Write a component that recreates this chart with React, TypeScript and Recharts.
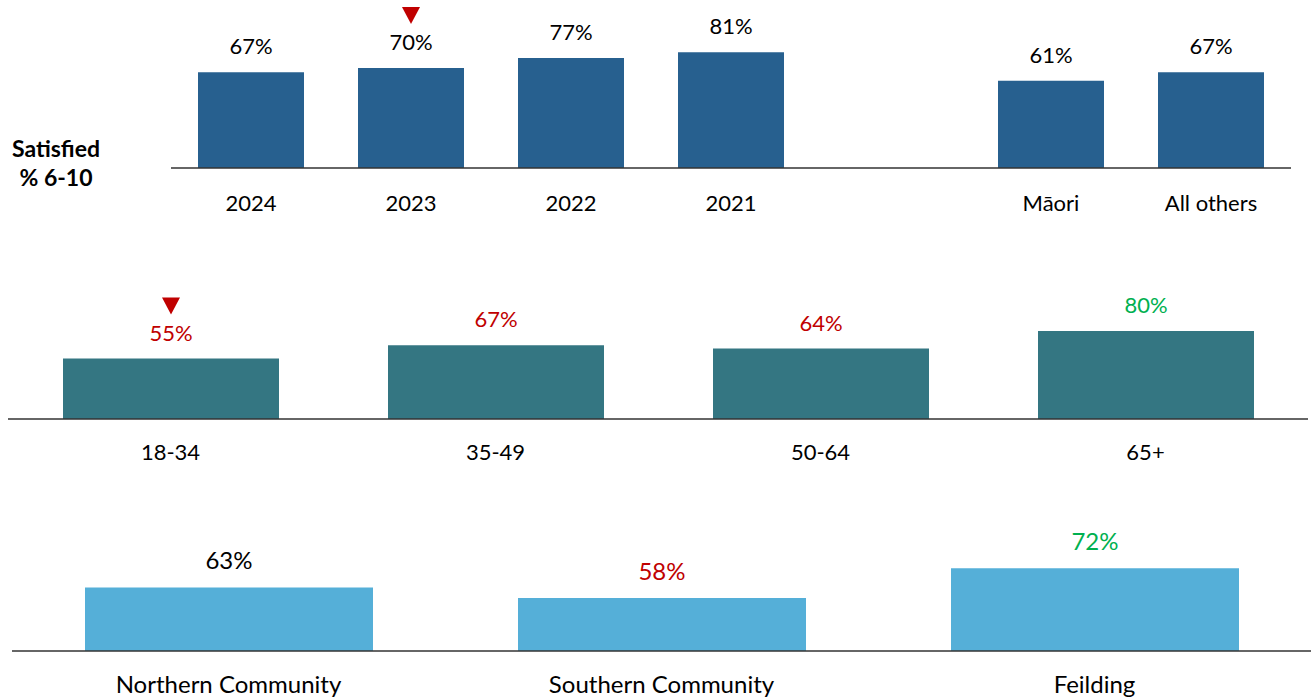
import { BarChart, Bar, XAxis, YAxis, LabelList } from 'recharts';

const FONT = 'Lato, "Open Sans", sans-serif';

// tone of a value label: plain, significantly lower, significantly higher
const TONE: Record<string, string> = { none: '#000000', low: '#C00000', high: '#00B050' };

// top row: year trend, then a blank slot, then ethnicity
const topCategories = ['2024', '2023', '2022', '2021', ' ', 'Māori', 'All others'];
const topValues = [67, 70, 77, 81, null, 61, 67];
const topTone = ['none', 'none', 'none', 'none', 'none', 'none', 'none'];
const topArrow = [false, true, false, false, false, false, false];

// middle row: age groups
const ageCategories = ['18-34', '35-49', '50-64', '65+'];
const ageValues = [55, 67, 64, 80];
const ageTone = ['low', 'low', 'low', 'high'];
const ageArrow = [true, false, false, false];

// bottom row: areas
const areaCategories = ['Northern Community', 'Southern Community', 'Feilding'];
const areaValues = [63, 58, 72];
const areaTone = ['none', 'low', 'high'];
const areaArrow = [false, false, false];

type PanelProps = {
  categories: string[];
  values: (number | null)[];
  tone: string[];
  arrow: boolean[];
  color: string;
  top: number;
  height: number;
  margin: { top: number; left: number; right: number; bottom: number };
  axisHeight: number;
  barSize: number;
  domain: [number, number];
  fontSize: number;
  tickDrop: number;
};

function Panel(p: PanelProps) {
  const data = p.categories.map((name, i) => ({ name, value: p.values[i] }));

  const renderTick = (props: any) => {
    const { x, y, payload } = props;
    return (
      <text x={x} y={y + p.tickDrop} textAnchor="middle" fill="#000" fontSize={p.fontSize} fontFamily={FONT}>
        {payload.value}
      </text>
    );
  };

  const renderLabel = (props: any) => {
    const vb = props.viewBox ?? {};
    const x = props.x ?? vb.x;
    const y = props.y ?? vb.y;
    const width = props.width ?? vb.width;
    const { index, value } = props;
    if (value == null || x == null) return null;
    const cx = Number(x) + Number(width) / 2;
    const ty = Number(y);
    return (
      <g>
        {p.arrow[index] && (
          <polygon points={`${cx - 9},${ty - 61} ${cx + 9},${ty - 61} ${cx},${ty - 44}`} fill="#C00000" />
        )}
        <text x={cx} y={ty - 18} textAnchor="middle" fill={TONE[p.tone[index]]} fontSize={p.fontSize} fontFamily={FONT}>
          {value}%
        </text>
      </g>
    );
  };

  return (
    <div style={{ position: 'absolute', left: 0, top: p.top }}>
      <BarChart width={1316} height={p.height} data={data} margin={p.margin}>
        <XAxis
          dataKey="name"
          height={p.axisHeight}
          axisLine={{ stroke: '#333333', strokeWidth: 1.5 }}
          tickLine={false}
          tickSize={0}
          tickMargin={0}
          interval={0}
          tick={renderTick}
        />
        <YAxis hide domain={p.domain} allowDataOverflow />
        <Bar dataKey="value" fill={p.color} barSize={p.barSize} isAnimationActive={false}>
          <LabelList dataKey="value" content={renderLabel} />
        </Bar>
      </BarChart>
    </div>
  );
}

export default function App() {
  return (
    <div style={{ position: 'absolute', left: 0, top: 0, width: 1316, height: 699, background: '#fff', overflow: 'hidden' }}>
      <div
        style={{
          position: 'absolute',
          left: 0,
          top: 134,
          width: 112,
          textAlign: 'center',
          fontFamily: FONT,
          fontWeight: 700,
          fontSize: 23,
          lineHeight: '29px',
          color: '#000',
        }}
      >
        Satisfied
        <br />
        % 6-10
      </div>

      <Panel
        categories={topCategories}
        values={topValues}
        tone={topTone}
        arrow={topArrow}
        color="#27608F"
        top={0}
        height={230}
        margin={{ top: 25, left: 171, right: 25, bottom: 0 }}
        axisHeight={62}
        barSize={106}
        domain={[0, 100]}
        fontSize={22}
        tickDrop={43}
      />

      <Panel
        categories={ageCategories}
        values={ageValues}
        tone={ageTone}
        arrow={ageArrow}
        color="#347682"
        top={230}
        height={240}
        margin={{ top: 79, left: 8, right: 8, bottom: 0 }}
        axisHeight={51}
        barSize={216}
        domain={[0, 100]}
        fontSize={22}
        tickDrop={41}
      />

      <Panel
        categories={areaCategories}
        values={areaValues}
        tone={areaTone}
        arrow={areaArrow}
        color="#55AFD8"
        top={470}
        height={229}
        margin={{ top: 75, left: 12, right: 5, bottom: 0 }}
        axisHeight={48}
        barSize={288}
        domain={[33, 83]}
        fontSize={24}
        tickDrop={42}
      />
    </div>
  );
}
